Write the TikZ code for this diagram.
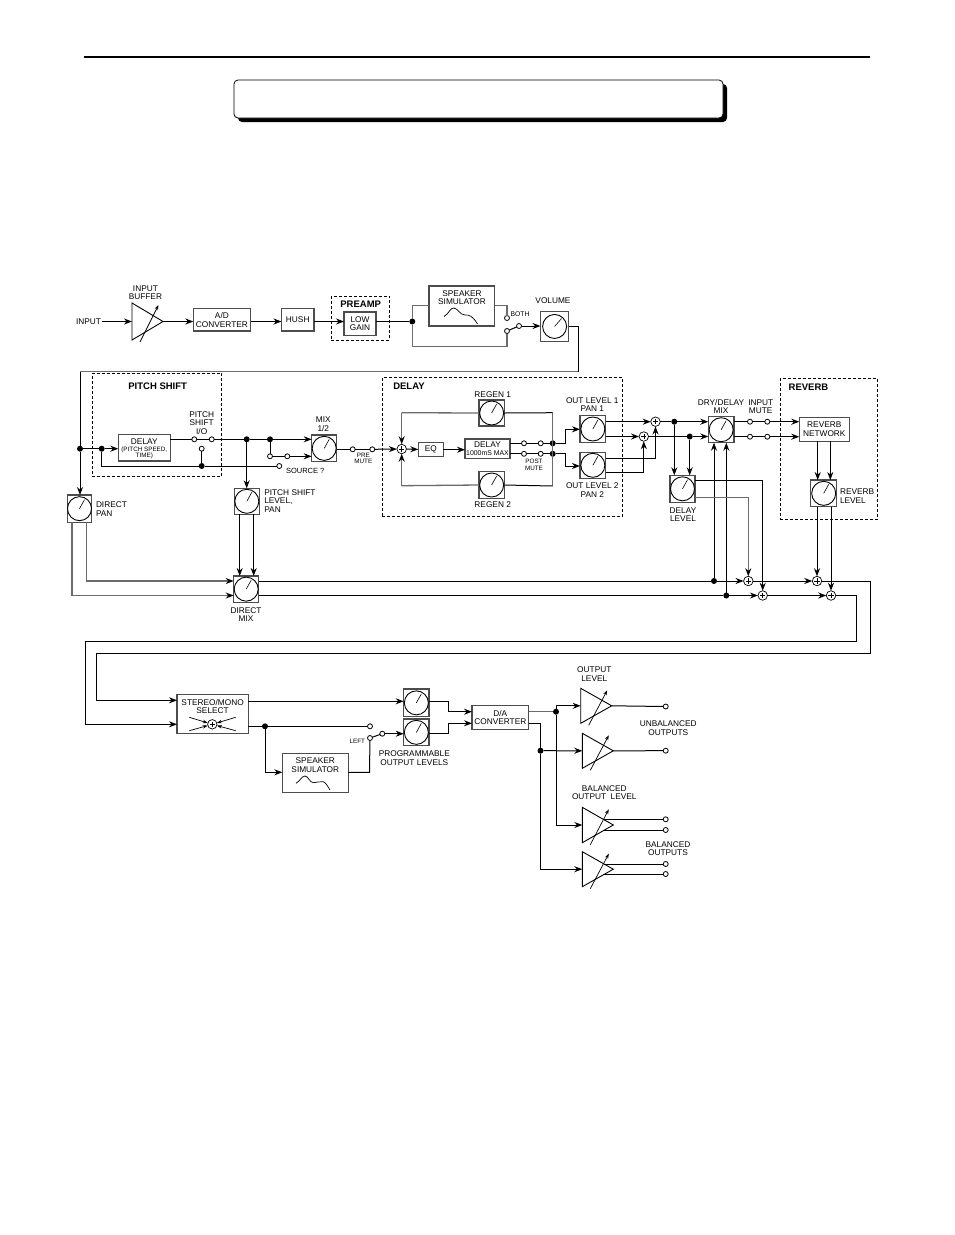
\documentclass[tikz,border=0pt]{standalone}
\usepackage{fontspec}
\setmainfont{Liberation Sans}
\usetikzlibrary{arrows.meta}
\definecolor{bxc}{gray}{0.3}
\definecolor{gly}{gray}{0.42}
\tikzset{
  ln/.style={draw=black,line width=1pt},
  gl/.style={draw=gly,line width=1.3pt},
  ar/.style={-{Stealth[length=8pt,width=6pt,color=black]}},
  arS/.style={draw=black,line width=0.7pt,-{Stealth[length=5pt,width=3.5pt,color=black]}},
  bx/.style={draw=bxc,line width=1.2pt,fill=white,inner sep=0pt,outer sep=0pt,align=center,font=\fontsize{8.3}{8.7}\selectfont},
  dsh/.style={draw=black,line width=0.8pt,dash pattern=on 3pt off 2pt,inner sep=0pt,outer sep=0pt},
  lab/.style={inner sep=0pt,outer sep=1pt,align=center,font=\fontsize{8.3}{8.5}\selectfont},
  labL/.style={lab,align=left,anchor=west},
  sm/.style={lab,font=\fontsize{6.3}{6.8}\selectfont},
  hd/.style={lab,font=\bfseries\fontsize{9.5}{10}\selectfont},
  ct/.style={circle,draw=black,line width=0.8pt,fill=white,minimum size=5pt,inner sep=0pt,outer sep=0pt},
  dt/.style={circle,fill=black,minimum size=6pt,inner sep=0pt,outer sep=0pt},
  sj/.style={circle,draw=black,line width=0.7pt,fill=white,minimum size=9.5pt,inner sep=0pt,outer sep=0pt},
  pic line/.style={draw=black,line width=0.9pt}
}
\newcommand\bxn[7][bx]{\pgfmathsetmacro\bw{#5-#3}\pgfmathsetmacro\bh{#6-#4}\pgfmathsetmacro\bcx{(#3+#5)/2}\pgfmathsetmacro\bcy{(#4+#6)/2}%
  \node[#1,minimum width=\bw pt,minimum height=\bh pt] (#2) at (\bcx,\bcy) {#7};}
\newcommand\knob[6][5,-9]{\bxn{#2}{#3}{#4}{#5}{#6}{}%
  \draw[pic line] (#2.center) circle [radius=12];
  \draw[draw=black,line width=0.6pt] (#2.center) -- ++(#1);}
\newcommand\sumj[3]{\node[sj] (#1) at (#2,#3) {};
  \draw[draw=black,line width=0.5pt] (#1.center) +(-2.6,0) -- +(2.6,0) +(0,-2.6) -- +(0,2.6);}
\newcommand\ampl[5]{\pgfmathsetmacro\amy{(#3+#5)/2}\pgfmathsetmacro\amxa{#2+8}\pgfmathsetmacro\amxb{#2+26.5}\pgfmathsetmacro\amya{#5+2}\pgfmathsetmacro\amyb{#3+2}%
  \coordinate (#1L) at (#2,\amy); \coordinate (#1R) at (#4,\amy);
  \draw[pic line,fill=white] (#2,#3) -- (#4,\amy) -- (#2,#5) -- cycle;
  \draw[arS] (\amxa,\amya) -- (\amxb,\amyb);}
\begin{document}
\begin{tikzpicture}[x=1pt,y=-1pt]
\useasboundingbox (0,0) rectangle (954,1235);
\fill[white] (0,0) rectangle (954,1235);
% header
\coordinate (hl) at (84,57); \coordinate (hr) at (870,57);
\draw[draw=black,line width=1.5pt] (hl) -- (hr);
\fill[black,rounded corners=4pt] (238,84) rectangle (727,122);
\draw[draw=black,fill=white,line width=0.8pt,rounded corners=4pt] (234,80) rectangle (723,118);
% dashed groups
\bxn[dsh]{gPre}{331.4}{296}{389.6}{340}{}
\bxn[dsh]{gPit}{92.3}{373.3}{221.7}{476.7}{}
\bxn[dsh]{gDel}{382.3}{377.3}{622.3}{516.7}{}
\bxn[dsh]{gRev}{780.3}{378.7}{877.7}{519.3}{}
\node[hd] (tPre) at (360.7,304.4) {PREAMP};
\node[hd] (tPit) at (157.7,386.7) {PITCH SHIFT};
\node[hd,anchor=west] (tDel) at (392.3,386.7) {DELAY};
\node[hd,anchor=west] (tRev) at (787.7,387.3) {REVERB};
% row 1
\node[lab,anchor=east] (lin) at (102,321.5) {INPUT};
\ampl{ib}{132}{303}{163}{340}
\node[lab] (tib) at (145.4,292.5) {INPUT\\BUFFER};
\bxn{ad}{193.3}{308.6}{250.5}{331}{A/D\\CONVERTER}
\bxn{hush}{281.5}{308.6}{314}{331}{HUSH}
\bxn{low}{344}{312}{376}{335.5}{LOW\\GAIN}
\bxn{spk}{429}{286}{494.6}{326}{}
\node[lab] (tspk) at (462,297.5) {SPEAKER\\SIMULATOR};
\draw[draw=black,line width=0.7pt] (444,316.5) .. controls (449,314) and (450,307.5) .. (454,308) .. controls (458,308.5) and (460,315) .. (465,315) .. controls (469,315) and (472,315) .. (477.5,324);
\knob[7,-8]{vol}{540.5}{311.3}{568.7}{341.6}
\node[lab] (tvol) at (553,301) {VOLUME};
\node[dt] (dotS) at (412.3,321.5) {};
\node[ct] (cBoth) at (507,318) {};
\node[ct] (cByp) at (507,331) {};
\node[ct] (cPole) at (519,326) {};
\node[sm,font=\fontsize{6.8}{7}\selectfont] (tboth) at (520,314) {BOTH};
\coordinate (bothB) at (507,305.5);
\coordinate (bypC) at (507,346.5);
\coordinate (r1b) at (578,371.6);
\coordinate (r1c) at (80,371.6);
\node[dt] (dotIn) at (80,448.7) {};
\draw[ln,ar] (lin) -- (ibL);
\draw[ln,ar] (ibR) -- (ibR -| ad.west);
\draw[ln,ar] (ibR -| ad.east) -- (ibR -| hush.west);
\draw[ln,ar] (ibR -| hush.east) -- (ibR -| low.west);
\draw[ln] (ibR -| low.east) -- (dotS);
\draw[gl] (dotS) |- (bothB -| spk.west);
\draw[gl] (bothB -| spk.east) -- (bothB) -- (cBoth);
\draw[gl] (dotS) |- (bypC) -- (cByp);
\draw[ln] (cByp) -- (cPole);
\draw[ln,ar] (cPole) -- (cPole -| vol.west);
\draw[ln] (vol.east) -| (r1b);
\draw[gl] (r1b) -- (r1c);
\draw[ln] (r1c) -- (dotIn);
% pitch shift
\bxn{pdl}{118.3}{434.3}{170.3}{461}{}
\node[lab] (tpdl) at (144.3,441.7) {DELAY};
\node[sm] (tpdl2) at (144.3,452.8) {(PITCH SPEED,\\TIME)};
\node[dt] (dotD) at (101.7,448.7) {};
\node[ct] (cPs1) at (194.3,439.3) {};
\node[ct] (cPs2) at (211.7,439.3) {};
\node[ct] (cPs3) at (201.7,448.7) {};
\node[dt] (dP1) at (246.7,439.3) {};
\node[dt] (dP2) at (270,439.3) {};
\node[ct] (cM1) at (270,456.3) {};
\node[ct] (cM2) at (287.3,456.3) {};
\node[dt] (dotS2) at (201.7,466) {};
\node[ct] (cSrc) at (279.3,466) {};
\node[lab,anchor=west,font=\fontsize{7.5}{8}\selectfont] (tsrc) at (285,471) {SOURCE ?};
\node[lab] (tps) at (201.7,423) {PITCH\\SHIFT\\I/O};
\knob{mix}{311.7}{435}{336.7}{461.7}
\node[lab] (tmix) at (323.3,424) {MIX\\1/2};
\node[ct] (cPre1) at (352.7,449.3) {};
\node[ct] (cPre2) at (372.3,449.3) {};
\node[sm] (tpre) at (363.3,458.3) {PRE\\MUTE};
\knob{psl}{234.3}{488.3}{259.3}{514.3}
\node[labL] (tpsl) at (263.3,501) {PITCH SHIFT\\LEVEL,\\PAN};
\knob{dirp}{67.3}{495}{91.7}{522.3}
\node[labL] (tdir) at (95,509) {DIRECT\\PAN};
\knob{dm}{233.7}{576}{258.7}{602.3}
\node[lab] (tdm) at (246,614.5) {DIRECT\\MIX};
\coordinate (pA) at (239.7,550);
\coordinate (pB) at (253.7,550);
\coordinate (dA) at (72,595.5);
\coordinate (dB) at (86.7,581);
\draw[ln,ar] (dotIn) -- (dotIn |- dirp.north);
\draw[ln] (dotIn) -- (dotD);
\draw[ln,ar] (dotD) -- (dotD -| pdl.west);
\draw[ln] (cPs1 -| pdl.east) -- (cPs1);
\draw[ln] (cPs1) -- (cPs2);
\draw[ln] (cPs2) -- (dP1);
\draw[ln] (dP1) -- (dP2);
\draw[ln,ar] (dP2) -- (dP2 -| mix.west);
\draw[ln,ar] (dP1) -- (dP1 |- psl.north);
\draw[ln] (dP2) -- (cM1);
\draw[ln] (cM1) -- (cM2);
\draw[ln,ar] (cM2) -- (cM2 -| mix.west);
\draw[ln] (dotD) |- (dotS2);
\draw[ln] (dotS2) -- (cSrc);
\draw[ln] (cPs3) -- (dotS2);
\draw[ln] (cPre1 -| mix.east) -- (cPre1);
\draw[ln] (cPre1) -- (cPre2);
\draw[ln,ar] (pA |- psl.south) -- (pA |- dm.north);
\draw[ln,ar] (pB |- psl.south) -- (pB |- dm.north);
\draw[gl,ar] (dA |- dirp.south) -- (dA) -- (dA -| dm.west);
\draw[gl,ar] (dB |- dirp.south) -- (dB) -- (dB -| dm.west);
% delay
\sumj{s1}{401.7}{449}
\bxn{eq}{418.3}{442.7}{443.3}{456.7}{EQ}
\bxn{ddl}{465}{439}{510}{458.3}{}
\node[lab] (tddl) at (487.5,444.3) {DELAY};
\node[sm,font=\fontsize{6.9}{7}\selectfont] (tddl2) at (487.5,453.3) {1000mS MAX};
\knob{rg1}{479}{400}{504.3}{426}
\knob{rg2}{479}{471.7}{504.3}{498.3}
\node[lab] (trg1) at (492.7,395) {REGEN 1};
\node[lab] (trg2) at (492.7,505) {REGEN 2};
\node[ct] (cD1a) at (524,443.3) {};
\node[ct] (cD1b) at (540.7,443.3) {};
\node[ct] (cD2a) at (524,453.8) {};
\node[ct] (cD2b) at (540.7,453.8) {};
\node[dt] (dD1) at (552.7,443.3) {};
\node[dt] (dD2) at (552.7,453.8) {};
\node[sm] (tpost) at (534,464.5) {POST\\MUTE};
\knob{ol1}{580}{415.7}{605.7}{442.3}
\knob{ol2}{580}{452.3}{605.7}{478.3}
\node[lab] (tol1) at (592.3,404.7) {OUT LEVEL 1\\PAN 1};
\node[lab] (tol2) at (592.3,490) {OUT LEVEL 2\\PAN 2};
\sumj{sA}{655.5}{421.7}
\sumj{sB}{643.8}{436.5}
\coordinate (rT) at (552.7,412.7);
\coordinate (rB) at (552.7,486);
\coordinate (lT) at (401.7,412.7);
\coordinate (lB) at (401.7,485.7);
\coordinate (o1) at (565,429.3);
\coordinate (o2) at (565,466);
\coordinate (oA) at (655.5,458.3);
\coordinate (oB) at (643.8,472.3);
\draw[ln,ar] (cPre2) -- (s1);
\draw[ln,ar] (s1) -- (eq);
\draw[ln,ar] (eq) -- (eq -| ddl.west);
\draw[ln] (cD1a -| ddl.east) -- (cD1a);
\draw[ln] (cD2a -| ddl.east) -- (cD2a);
\draw[ln] (cD1a) -- (cD1b);
\draw[ln] (cD2a) -- (cD2b);
\draw[ln] (cD1b) -- (dD1);
\draw[ln] (cD2b) -- (dD2);
\draw[gl] (rT) -- (rB);
\draw[ln] (rg1.east) -- (rT);
\draw[ln] (rg2.east) -- (rB);
\draw[gl] (rg1.west) -- (lT);
\draw[gl] (rg2.west) -- (lB);
\draw[gl,ar] (lT) -- (s1);
\draw[gl,ar] (lB) -- (s1);
\draw[ln,ar] (dD1) -| (o1) -- (o1 -| ol1.west);
\draw[ln,ar] (dD2) -| (o2) -- (o2 -| ol2.west);
\draw[ln,ar] (sA -| ol1.east) -- (sA);
\draw[ln,ar] (sB -| ol1.east) -- (sB);
\draw[ln,ar] (oA -| ol2.east) -- (oA) -- (sA);
\draw[ln,ar] (oB -| ol2.east) -- (oB) -- (sB);
% dry/delay, delay level
\knob{ddm}{708.3}{416.7}{734}{442.7}
\node[lab] (tddm) at (721,406.5) {DRY/DELAY\\MIX};
\node[dt] (dA1) at (674.3,421.7) {};
\node[dt] (dB1) at (689.7,436.5) {};
\knob{dlv}{670}{475.3}{695}{502.3}
\node[lab] (tdlv) at (683,514.5) {DELAY\\LEVEL};
\node[ct] (cI1a) at (750,421.7) {};
\node[ct] (cI1b) at (767.3,421.7) {};
\node[ct] (cI2a) at (750,436.7) {};
\node[ct] (cI2b) at (767.3,436.7) {};
\node[lab] (tim) at (760.7,406.5) {INPUT\\MUTE};
\draw[ln] (sA) -- (dA1);
\draw[ln,ar] (dA1) -- (dA1 -| ddm.west);
\draw[ln] (sB) -- (dB1);
\draw[ln,ar] (dB1) -- (dB1 -| ddm.west);
\draw[ln,ar] (dA1) -- (dA1 |- dlv.north);
\draw[ln,ar] (dB1) -- (dB1 |- dlv.north);
\draw[ln] (cI1a -| ddm.east) -- (cI1a);
\draw[ln] (cI2a -| ddm.east) -- (cI2a);
\draw[ln] (cI1a) -- (cI1b);
\draw[ln] (cI2a) -- (cI2b);
% reverb
\bxn{rnet}{799.3}{417.3}{849.3}{441.3}{REVERB\\NETWORK}
\knob{rvl}{810.7}{480}{836.7}{506.7}
\node[labL] (trvl) at (839,496.2) {REVERB\\LEVEL};
\coordinate (nA) at (817.7,460);
\coordinate (nB) at (830.3,460);
\draw[ln,ar] (cI1b) -- (cI1b -| rnet.west);
\draw[ln,ar] (cI2b) -- (cI2b -| rnet.west);
\draw[ln,ar] (nA |- rnet.south) -- (nA |- rvl.north);
\draw[ln,ar] (nB |- rnet.south) -- (nB |- rvl.north);
% mix buses
\sumj{sL}{748.3}{581}
\sumj{sLb}{762.7}{595.5}
\sumj{sR}{817}{581}
\sumj{sRb}{831}{595.5}
\node[dt] (dL1) at (714,581) {};
\node[dt] (dL2) at (726.3,595.5) {};
\coordinate (dlA) at (762.7,480.7);
\coordinate (dlB) at (748.3,497.3);
\draw[ln] (dB -| dm.east) -- (dL1);
\draw[ln] (dA -| dm.east) -- (dL2);
\draw[ln,ar] (dL1) -- (sL);
\draw[ln,ar] (dL2) -- (sLb);
\draw[ln,ar] (dL1) -- (dL1 |- ddm.south);
\draw[ln,ar] (dL2) -- (dL2 |- ddm.south);
\draw[ln,ar] (sL) -- (sR);
\draw[ln,ar] (sLb) -- (sRb);
\draw[ln,ar] (dlA -| dlv.east) -- (dlA) -- (sLb);
\draw[gl,ar] (dlB -| dlv.east) -- (dlB) -- (sL);
\draw[ln,ar] (sR |- rvl.south) -- (sR);
\draw[ln,ar] (sRb |- rvl.south) -- (sRb);
% stereo/mono
\bxn{st}{177}{694.3}{248.3}{733.7}{}
\node[lab] (tst) at (212.6,706.5) {STEREO/MONO\\SELECT};
\sumj{sSt}{212.3}{724.3}
\draw[arS] (189.3,717.3) -- (sSt);
\draw[arS] (235.7,717.3) -- (sSt);
\draw[arS] (189.3,730.7) -- (sSt);
\draw[arS] (235.7,730.7) -- (sSt);
\coordinate (e1) at (870.7,581);
\coordinate (e2) at (870.7,653.3);
\coordinate (e3) at (96.7,653.3);
\coordinate (e4) at (96.7,700.3);
\coordinate (f1) at (856.3,595.5);
\coordinate (f2) at (856.3,641);
\coordinate (f3) at (85,641);
\coordinate (f4) at (85,724.3);
\draw[ln,ar] (sR) -- (e1) -- (e2) -- (e3) -- (e4) -- (e4 -| st.west);
\draw[ln,ar] (sRb) -- (f1) -- (f2) -- (f3) -- (f4) -- (f4 -| st.west);
\knob{pg1}{403.7}{689}{429}{716.7}
\knob{pg2}{403.7}{719}{429}{745.7}
\node[lab] (tpg) at (414.3,758) {PROGRAMMABLE\\OUTPUT LEVELS};
\node[dt] (dSt) at (265,726.3) {};
\node[ct] (cL1) at (370,726.3) {};
\node[ct] (cL2) at (370,738) {};
\node[ct] (cL3) at (382.3,733.7) {};
\node[sm,anchor=east] (tleft) at (366,741.7) {LEFT};
\bxn{spk2}{282.3}{753.3}{348.3}{792.3}{}
\node[lab] (tspk2) at (315.3,765) {SPEAKER\\SIMULATOR};
\draw[draw=black,line width=0.7pt] (296,783.3) .. controls (300,781) and (302,776) .. (305,776) .. controls (308,776) and (310,782.7) .. (313.3,782.7) .. controls (317,782.7) and (320,781) .. (323.3,781.7) .. controls (326,782.5) and (328,787) .. (330,790);
\coordinate (sD) at (265,772.3);
\coordinate (sU) at (369.5,772.3);
\coordinate (p1) at (448.3,701.3);
\coordinate (p1d) at (448.3,711.7);
\coordinate (p2) at (448.3,733.7);
\coordinate (p2d) at (448.3,723.3);
\bxn{da}{472}{705.7}{528.7}{729.3}{D/A\\CONVERTER}
\draw[ln,ar] (p1 -| st.east) -- (p1 -| pg1.west);
\draw[ln] (dSt -| st.east) -- (dSt);
\draw[ln] (dSt) -- (cL1);
\draw[ln,ar] (dSt) -- (sD) -- (sD -| spk2.west);
\draw[ln] (sD -| spk2.east) -- (sU) -- (cL2);
\draw[ln] (cL2) -- (cL3);
\draw[ln,ar] (cL3) -- (cL3 -| pg2.west);
\draw[ln,ar] (p1 -| pg1.east) -- (p1) -- (p1d) -- (p1d -| da.west);
\draw[ln,ar] (p2 -| pg2.east) -- (p2) -- (p2d) -- (p2d -| da.west);
% outputs
\ampl{t1}{580.7}{688.3}{611.7}{723.3}
\ampl{t2}{582.3}{733.3}{613.3}{768.3}
\ampl{t3}{582.3}{807.3}{613.3}{842.7}
\ampl{t4}{582.3}{851.7}{613.3}{886.7}
\node[dt] (dDa) at (556,711.7) {};
\node[dt] (dDb) at (540.5,750.7) {};
\coordinate (g1) at (540.5,723.3);
\node[ct] (c1) at (665.7,706.5) {};
\node[ct] (c2) at (665.7,750.7) {};
\node[ct] (c3a) at (665.7,819.3) {};
\node[ct] (c3b) at (665.7,830) {};
\node[ct] (c4a) at (665.7,864) {};
\node[ct] (c4b) at (665.7,874) {};
\coordinate (t3a) at (604,819.3);
\coordinate (t3b) at (604,830);
\coordinate (t4a) at (604,864);
\coordinate (t4b) at (604,874);
\draw[gl] (dDa -| da.east) -- (dDa);
\draw[ln,ar] (dDa) |- (t1L);
\draw[ln,ar] (dDa) |- (t3L);
\draw[ln] (g1 -| da.east) -- (g1) -- (dDb);
\draw[ln,ar] (dDb) -- (t2L);
\draw[ln,ar] (dDb) |- (t4L);
\draw[ln] (t1R) -- (c1);
\draw[ln] (t2R) -- (c2);
\draw[ln] (t3a) -- (c3a);
\draw[ln] (t3b) -- (c3b);
\draw[ln] (t4a) -- (c4a);
\draw[ln] (t4b) -- (c4b);
\node[lab] (tol) at (594.3,674.2) {OUTPUT\\LEVEL};
\node[lab] (tub) at (668.3,728.3) {UNBALANCED\\OUTPUTS};
\node[lab] (tbl) at (604.3,792.7) {BALANCED\\OUTPUT\ \ LEVEL};
\node[lab] (tbo) at (668,848.5) {BALANCED\\OUTPUTS};
\end{tikzpicture}
\end{document}
